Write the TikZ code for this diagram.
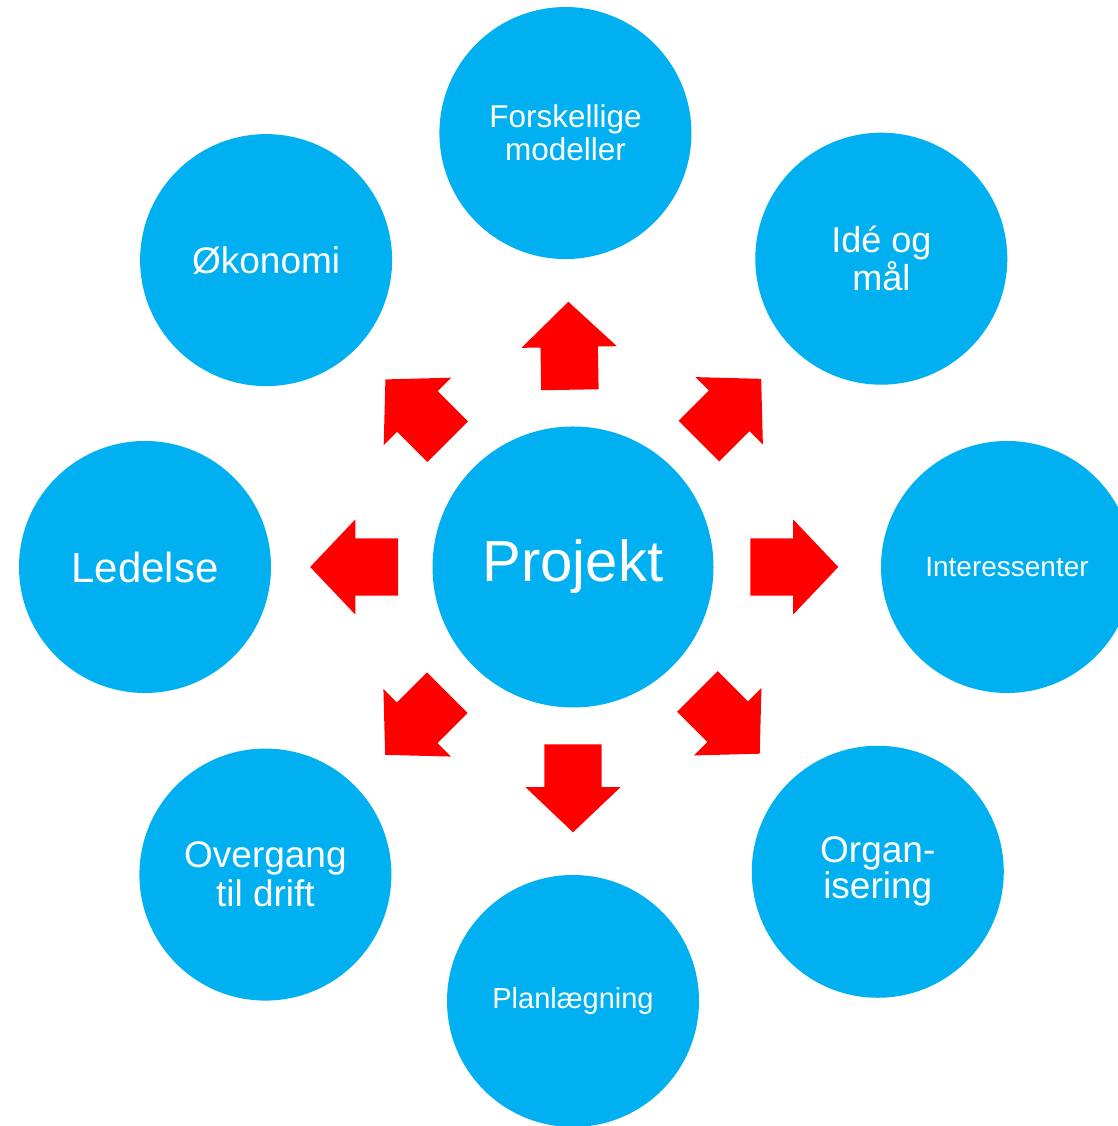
\documentclass[tikz,border=0pt]{standalone}
\usepackage{fontspec}
\setmainfont{Liberation Sans}
\usetikzlibrary{shapes.arrows}
\definecolor{bubbleblue}{RGB}{0,176,240}
\definecolor{arrowred}{RGB}{255,0,0}

\begin{document}
\begin{tikzpicture}[x=1pt, y=1pt,
    bubble/.style={circle, fill=bubbleblue, minimum size=252pt, inner sep=0pt, text=white, align=center},
    arrowbox/.style={single arrow, fill=arrowred, minimum height=88pt, inner xsep=0pt, inner ysep=28.5pt,
        single arrow head extend=19pt, single arrow tip angle=93},
    level distance=434pt, sibling distance=0pt,
    edge from parent/.style={draw=none}]
    \useasboundingbox (0,0) rectangle (1117,1126);
    \node[bubble, minimum size=281pt, font=\fontsize{58}{60}\selectfont] (proj) at (573,559) {Projekt}
        child[grow=91.5] {node[bubble, font=\fontsize{31.5}{33}\selectfont] (fors) {Forskellige\\modeller}}
        child[grow=45.4, level distance=436pt] {node[bubble, font=\fontsize{36}{38}\selectfont] (idee) {Idé og\\mål}}
        child[grow=0] {node[bubble, font=\fontsize{28}{30}\selectfont] (inter) {Interessenter}}
        child[grow=-45.4, level distance=431pt] {node[bubble, font=\fontsize{37}{36}\selectfont] (organ) {Organ-\\isering}}
        child[grow=-90] {node[bubble, font=\fontsize{29}{31}\selectfont] (plan) {Planlægning}}
        child[grow=225.5, level distance=435pt] {node[bubble, font=\fontsize{37}{39}\selectfont] (drift) {Overgang\\til drift}}
        child[grow=180.4, level distance=428pt] {node[bubble, font=\fontsize{42}{44}\selectfont] (ledelse) {Ledelse}}
        child[grow=135.3] {node[bubble, font=\fontsize{37}{39}\selectfont] (oekonomi) {Økonomi}};
    % arrows from the centre out to each circle
    \foreach \c in {fors,idee,inter,organ,plan,drift,ledelse,oekonomi}
        \path (proj.center) -- node[arrowbox, pos=0.408, anchor=tail, sloped, allow upside down] (arr-\c) {} (\c.center);
\end{tikzpicture}
\end{document}
